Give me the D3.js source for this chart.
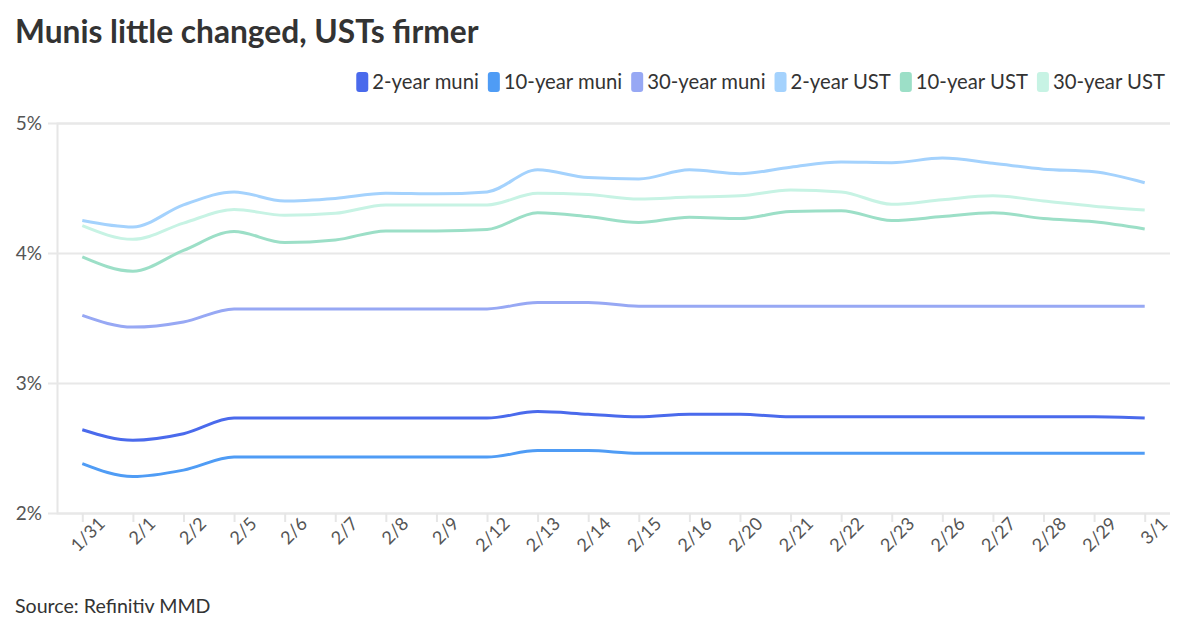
<!DOCTYPE html>
<html>
<head>
  <meta charset="utf-8">
  <title>Munis little changed, USTs firmer</title>
  <script src="https://cdn.jsdelivr.net/npm/d3@7"></script>
  <style>
    body { margin: 0; background: #fff; }
    svg text { font-family: Lato, "Open Sans", sans-serif; }
    .title { font-size: 31.7px; font-weight: bold; fill: #333; }
    .legend-label { font-size: 20.3px; fill: #333; }
    .source { font-size: 19.6px; fill: #333; }
    .y-axis text { font-size: 19px; fill: #555; }
    .x-axis text { font-size: 18px; fill: #555; }
  </style>
</head>
<body>
<script>
  var dates = ['1/31', '2/1', '2/2', '2/5', '2/6', '2/7', '2/8', '2/9', '2/12', '2/13', '2/14',
    '2/15', '2/16', '2/20', '2/21', '2/22', '2/23', '2/26', '2/27', '2/28', '2/29', '3/1'];

  var muni2 = [2.64, 2.56, 2.61, 2.73, 2.73, 2.73, 2.73, 2.73, 2.73, 2.78, 2.76,
    2.74, 2.76, 2.76, 2.74, 2.74, 2.74, 2.74, 2.74, 2.74, 2.74, 2.73];
  var muni10 = [2.38, 2.28, 2.33, 2.43, 2.43, 2.43, 2.43, 2.43, 2.43, 2.48, 2.48,
    2.46, 2.46, 2.46, 2.46, 2.46, 2.46, 2.46, 2.46, 2.46, 2.46, 2.46];
  var muni30 = [3.52, 3.43, 3.47, 3.57, 3.57, 3.57, 3.57, 3.57, 3.57, 3.62, 3.62,
    3.59, 3.59, 3.59, 3.59, 3.59, 3.59, 3.59, 3.59, 3.59, 3.59, 3.59];
  var ust2 = [4.25, 4.20, 4.37, 4.47, 4.40, 4.42, 4.46, 4.455, 4.47, 4.64, 4.58,
    4.57, 4.64, 4.61, 4.66, 4.70, 4.695, 4.73, 4.69, 4.645, 4.625, 4.54];
  var ust10 = [3.97, 3.86, 4.02, 4.165, 4.08, 4.10, 4.17, 4.17, 4.18, 4.31, 4.28,
    4.235, 4.275, 4.265, 4.32, 4.325, 4.25, 4.28, 4.31, 4.265, 4.24, 4.185];
  var ust30 = [4.21, 4.105, 4.23, 4.335, 4.29, 4.305, 4.37, 4.37, 4.37, 4.46, 4.45,
    4.415, 4.43, 4.44, 4.485, 4.47, 4.375, 4.41, 4.44, 4.40, 4.36, 4.33];

  var seriesNames = ['2-year muni', '10-year muni', '30-year muni', '2-year UST', '10-year UST', '30-year UST'];
  var seriesValues = [muni2, muni10, muni30, ust2, ust10, ust30];
  var seriesColors = ['#4a6aec', '#4f9cf5', '#97a8f4', '#a4d2fd', '#9cdfc7', '#c7f3e4'];
  var yTicks = [2, 3, 4, 5];

  var width = 1200, height = 630;
  var margin = { top: 123, right: 30, bottom: 117, left: 57 };

  var svg = d3.select('body').append('svg')
    .attr('width', width)
    .attr('height', height);

  var x = d3.scalePoint()
    .domain(dates)
    .range([margin.left, width - margin.right])
    .padding(0.5);

  var y = d3.scaleLinear()
    .domain([2, 5])
    .range([height - margin.bottom, margin.top]);

  // title
  svg.append('text')
    .attr('class', 'title')
    .attr('x', 15)
    .attr('y', 43)
    .text('Munis little changed, USTs firmer');

  // gridlines + y labels
  var yAxis = svg.append('g')
    .attr('class', 'y-axis')
    .attr('transform', 'translate(' + margin.left + ',0)')
    .call(d3.axisLeft(y)
      .tickValues(yTicks)
      .tickSize(-(width - margin.right - margin.left))
      .tickFormat(function(d) { return d + '%'; }));
  yAxis.select('.domain').attr('stroke', '#e6e6e6').attr('stroke-width', 2);
  yAxis.selectAll('.tick line')
    .attr('x1', -9)
    .attr('stroke', '#e8e8e8')
    .attr('stroke-width', 2);
  yAxis.selectAll('.tick text').attr('x', -15);

  // x axis
  var xAxis = svg.append('g')
    .attr('class', 'x-axis')
    .attr('transform', 'translate(0,' + (height - margin.bottom) + ')')
    .call(d3.axisBottom(x).tickSize(9).tickPadding(6));
  xAxis.select('.domain').remove();
  xAxis.selectAll('.tick line').attr('stroke', '#e6e6e6').attr('stroke-width', 2);
  xAxis.selectAll('.tick text')
    .attr('text-anchor', 'end')
    .attr('dx', '0.45em')
    .attr('dy', '0.55em')
    .attr('transform', 'rotate(-45)');

  // lines
  var line = d3.line()
    .x(function(d, i) { return x(dates[i]); })
    .y(function(d) { return y(d); })
    .curve(d3.curveMonotoneX);

  svg.append('g')
    .selectAll('path')
    .data(seriesValues)
    .enter()
    .append('path')
    .attr('fill', 'none')
    .attr('stroke', function(d, i) { return seriesColors[i]; })
    .attr('stroke-width', 3)
    .attr('d', line);

  // legend, right aligned
  var legend = svg.append('g').attr('class', 'legend');
  var items = legend.selectAll('g')
    .data(seriesNames)
    .enter()
    .append('g');
  items.append('rect')
    .attr('width', 12)
    .attr('height', 20)
    .attr('y', 72)
    .attr('rx', 3)
    .attr('fill', function(d, i) { return seriesColors[i]; });
  items.append('text')
    .attr('class', 'legend-label')
    .attr('x', 16)
    .attr('y', 89)
    .text(function(d) { return d; });

  var right = 1165;
  var widths = [];
  items.each(function() {
    widths.push(d3.select(this).select('text').node().getComputedTextLength() + 16);
  });
  var pos = right;
  for (var i = widths.length - 1; i >= 0; i--) {
    pos -= widths[i];
    widths[i] = pos;
    pos -= 9;
  }
  items.attr('transform', function(d, i) { return 'translate(' + widths[i] + ',0)'; });

  // source
  svg.append('text')
    .attr('class', 'source')
    .attr('x', 15)
    .attr('y', 613)
    .text('Source: Refinitiv MMD');
</script>
</body>
</html>
